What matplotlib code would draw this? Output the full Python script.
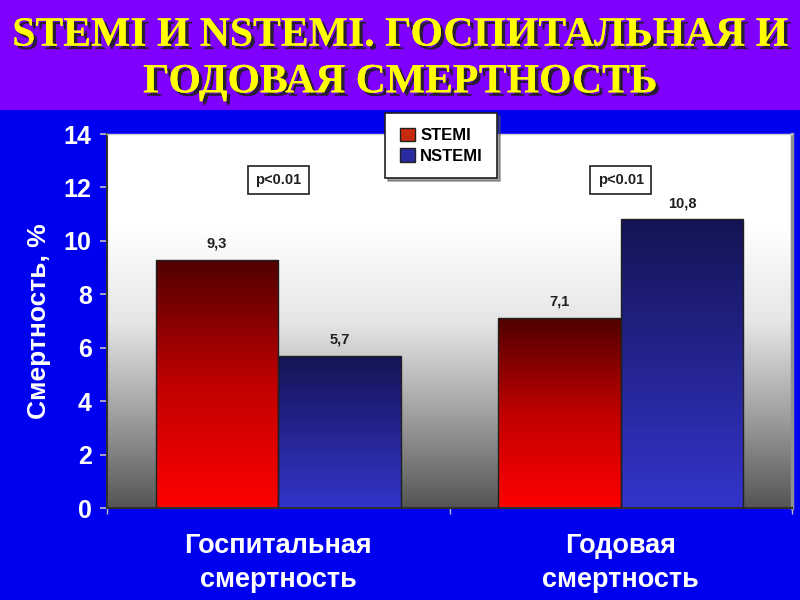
import matplotlib.pyplot as plt
import matplotlib.patheffects as pe
from matplotlib.colors import LinearSegmentedColormap
import numpy as np

# данные
categories = ['Госпитальная\nсмертность', 'Годовая\nсмертность']
series_names = ['STEMI', 'NSTEMI']
stemi = [9.3, 7.1]
nstemi = [5.7, 10.8]
stemi_labels = ['9,3', '7,1']
nstemi_labels = ['5,7', '10,8']
p_labels = ['p<0.01', 'p<0.01']
yticks = [0, 2, 4, 6, 8, 10, 12, 14]
title = 'STEMI И NSTEMI. ГОСПИТАЛЬНАЯ И\nГОДОВАЯ СМЕРТНОСТЬ'

fig = plt.figure(figsize=(8, 6), dpi=100)
fig.patch.set_facecolor('#0000f0')

# фиолетовая полоса заголовка
fig.patches.append(plt.Rectangle((0, 1 - 110/600), 1, 110/600, transform=fig.transFigure,
                                 facecolor='#8000ff', edgecolor='none', zorder=0))
fig.text(0.5, 1 - 59/600, title, ha='center', va='center', color='#ffff00',
         fontsize=30, fontweight='bold', family='Liberation Serif', linespacing=1.3,
         path_effects=[pe.withSimplePatchShadow(offset=(2.5, -2.5), shadow_rgbFace='#202020', alpha=0.9),
                       pe.Normal()])

ax = fig.add_axes([107/800, 92/600, 685/800, 374/600])

x = np.arange(len(categories))
w = 0.357

# фон области построения (градиент)
bg = LinearSegmentedColormap.from_list('bg', ['#555555', '#a0a0a0', '#e6e6e6', '#ffffff', '#ffffff'])
grad = np.linspace(0, 1, 256).reshape(-1, 1)
ax.imshow(grad, extent=[-0.5, 1.5, 0, 14], origin='lower', aspect='auto', cmap=bg, zorder=0)

red = LinearSegmentedColormap.from_list('red', ['#ff0000', '#c00000', '#500000'])
blue = LinearSegmentedColormap.from_list('blue', ['#3434cc', '#242490', '#141455'])

b1 = ax.bar(x - w/2, stemi, w, facecolor='none', edgecolor='#202020', linewidth=1, zorder=3)
b2 = ax.bar(x + w/2, nstemi, w, facecolor='none', edgecolor='#202020', linewidth=1, zorder=3)

for bars, cm in [(b1, red), (b2, blue)]:
    for r in bars:
        x0, h, bw = r.get_x(), r.get_height(), r.get_width()
        im = ax.imshow(grad, extent=[x0, x0 + bw, 0, h], origin='lower', aspect='auto',
                       cmap=cm, zorder=2)
        im.set_clip_path(r)

for bars, labs in [(b1, stemi_labels), (b2, nstemi_labels)]:
    for r, lab in zip(bars, labs):
        ax.text(r.get_x() + r.get_width()/2, r.get_height() + 0.35, lab, ha='center', va='bottom',
                fontsize=10.5, fontweight='bold', color='#202020', family='Liberation Sans')

for xi, p in zip(x, p_labels):
    ax.text(xi, 12.28, p, ha='center', va='center', fontsize=10.5, fontweight='bold',
            color='#202020', family='Liberation Sans',
            bbox=dict(boxstyle='square,pad=0.5', facecolor='white', edgecolor='#202020', linewidth=1.2))

ax.set_xlim(-0.5, 1.5)
ax.set_ylim(0, 14)
ax.set_yticks(yticks)
ax.set_yticklabels([str(t) for t in yticks], fontsize=18, fontweight='bold', color='white',
                   family='Liberation Sans')
ax.tick_params(axis='y', colors='#c0c0c0', length=5, width=1.2, pad=6)
for lab in ax.get_yticklabels():
    lab.set_color('white')

ax.set_xticks(x)
ax.set_xticklabels(categories, fontsize=19.5, fontweight='bold', color='white',
                   family='Liberation Sans', linespacing=1.4)
ax.tick_params(axis='x', length=0, pad=18)
ax.set_xticks([-0.5, 0.5, 1.5], minor=True)
ax.tick_params(axis='x', which='minor', length=4, color='#c0c0c0', width=1)

ax.set_ylabel('Смертность, %', fontsize=19, fontweight='bold', color='white',
              family='Liberation Sans', labelpad=9)

ax.spines['left'].set_color('#303030')
ax.spines['left'].set_linewidth(1.5)
ax.spines['bottom'].set_color('#303030')
ax.spines['bottom'].set_linewidth(1.5)
ax.spines['right'].set_color('#909090')
ax.spines['right'].set_linewidth(2.5)
ax.spines['top'].set_color('#d0d0d0')
ax.spines['top'].set_linewidth(1)

# легенда
h1 = plt.Rectangle((0, 0), 1, 1, facecolor='#c82a10', edgecolor='#202020')
h2 = plt.Rectangle((0, 0), 1, 1, facecolor='#2a2aa0', edgecolor='#202020')
leg = fig.legend([h1, h2], series_names, loc='upper left', bbox_to_anchor=(377/800, 1 - 105/600),
                 frameon=True, fancybox=False, shadow=True, edgecolor='#202020', framealpha=1,
                 prop={'family': 'Liberation Sans', 'weight': 'bold', 'size': 12},
                 handlelength=0.9, handleheight=0.9, handletextpad=0.35, labelspacing=0.3,
                 borderpad=0.85)
leg.get_frame().set_linewidth(1.2)

fig.savefig('out.png', dpi=100, facecolor=fig.get_facecolor())
